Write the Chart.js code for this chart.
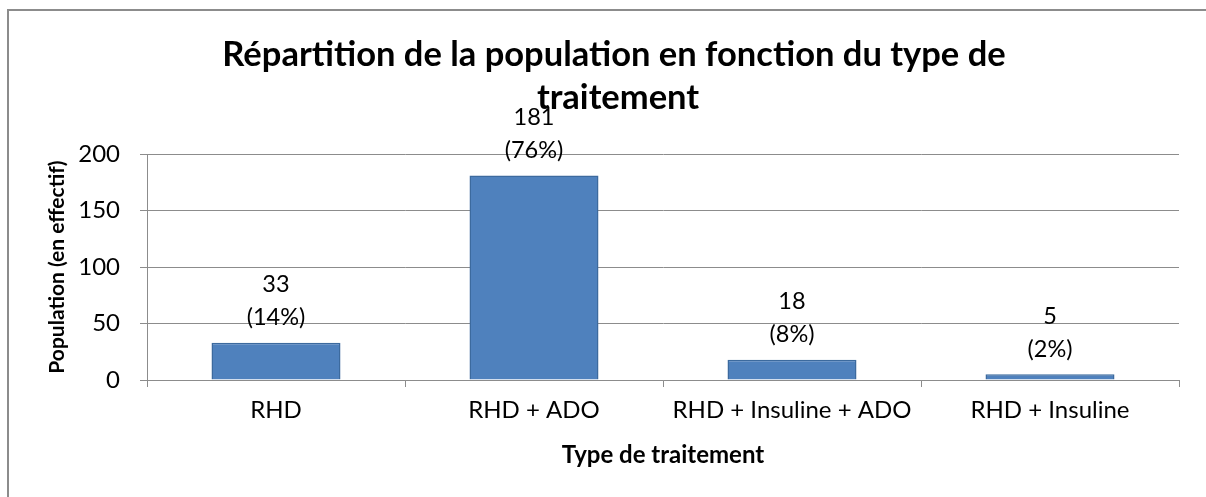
<!DOCTYPE html>
<html>
<head>
<meta charset="utf-8">
<script src="https://cdn.jsdelivr.net/npm/chart.js@4"></script>
<style>
  html, body { margin: 0; padding: 0; width: 1206px; height: 497px; overflow: hidden; background: #fff; }
  #frame { position: absolute; left: 7px; top: 9px; width: 1300px; height: 600px; border: 2px solid #8c8c8c; box-sizing: border-box; }
  #wrap { position: absolute; left: 0; top: 0; width: 1206px; height: 497px; }
</style>
</head>
<body>
<div id="frame"></div>
<div id="wrap"><canvas id="c" width="1206" height="497"></canvas></div>
<script>
const categories = ['RHD', 'RHD + ADO', 'RHD + Insuline + ADO', 'RHD + Insuline'];
const counts = [33, 181, 18, 5];
const percents = ['14%', '76%', '8%', '2%'];
const yTicks = [0, 50, 100, 150, 200];
const titleLines = ['Répartition de la population en fonction du type de', 'traitement'];
const yTitle = 'Population (en effectif)';
const xTitle = 'Type de traitement';

const FONT = 'Lato, Carlito, Calibri, sans-serif';
const GRID = '#8c8c8c';

const labelPlugin = {
  id: 'labels',
  afterDatasetsDraw(chart) {
    const ctx = chart.ctx;
    const meta = chart.getDatasetMeta(0);
    ctx.save();
    ctx.fillStyle = '#000';
    ctx.font = '23.5px ' + FONT;
    ctx.textAlign = 'center';
    ctx.textBaseline = 'middle';
    meta.data.forEach((bar, i) => {
      ctx.fillText(String(counts[i]), bar.x, bar.y - 58);
      ctx.fillText('(' + percents[i] + ')', bar.x, bar.y - 25);
    });
    ctx.restore();
  }
};

const titlePlugin = {
  id: 'bigTitle',
  afterDraw(chart) {
    const ctx = chart.ctx;
    ctx.save();
    ctx.fillStyle = '#000';
    ctx.font = 'bold 34.5px ' + FONT;
    ctx.textAlign = 'center';
    ctx.textBaseline = 'alphabetic';
    ctx.fillText(titleLines[0], 614, 66);
    ctx.fillText(titleLines[1], 618, 109);
    ctx.restore();
  }
};

new Chart(document.getElementById('c'), {
  type: 'bar',
  data: {
    labels: categories,
    datasets: [{
      data: counts,
      backgroundColor: '#4f81bd',
      borderColor: '#3c6a9e',
      borderWidth: 1.5,
      barPercentage: 0.5,
      categoryPercentage: 1.0
    }]
  },
  options: {
    responsive: false,
    animation: false,
    layout: { padding: { left: 10, top: 154, right: 27, bottom: 10 } },
    plugins: {
      legend: { display: false },
      tooltip: { enabled: false },
      title: { display: false }
    },
    scales: {
      x: {
        afterFit(scale) { scale.height = 107; },
        grid: { display: true, drawOnChartArea: false, drawTicks: true, tickLength: 7, color: GRID, offset: true },
        border: { display: true, color: GRID, width: 1 },
        ticks: { color: '#000', font: { family: FONT, size: 24 }, padding: 9, maxRotation: 0 },
        title: { display: true, text: xTitle, color: '#000', font: { family: FONT, size: 24, weight: 'bold' }, padding: { top: 4, bottom: 17 } }
      },
      y: {
        min: 0,
        max: 200,
        afterFit(scale) { scale.width = 137; },
        afterBuildTicks(scale) { scale.ticks = yTicks.map(v => ({ value: v })); },
        grid: { color: GRID, lineWidth: 1, drawTicks: true, tickLength: 7 },
        border: { display: true, color: GRID, width: 1 },
        ticks: { color: '#000', font: { family: FONT, size: 24 }, padding: 20 },
        title: { display: true, text: yTitle, color: '#000', font: { family: FONT, size: 21, weight: 'bold' }, padding: { top: 35, bottom: 0 } }
      }
    }
  },
  plugins: [labelPlugin, titlePlugin]
});
</script>
</body>
</html>
